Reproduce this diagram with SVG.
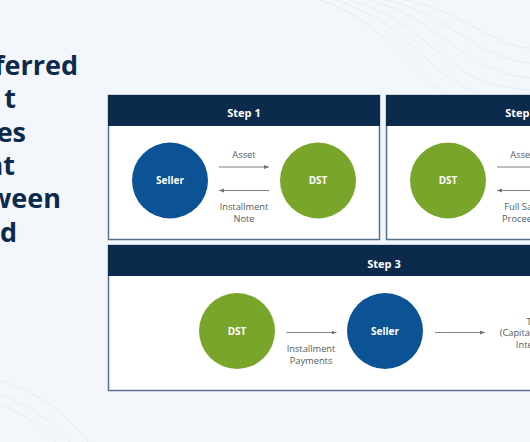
<svg xmlns="http://www.w3.org/2000/svg" width="530" height="442" viewBox="0 0 530 442">
<defs>
<style>
.bg{fill:#f3f7fb}
.wave{fill:none;stroke:#e2e9f1;stroke-width:0.8}
.box{fill:#ffffff;stroke:#56708e;stroke-width:1.5}
.hdr{fill:#0c2a4c}
.htxt{font-family:"Open Sans","Liberation Sans",sans-serif;font-weight:700;font-size:11px;fill:#ffffff;text-anchor:middle}
.ctxt{font-family:"Open Sans","Liberation Sans",sans-serif;font-weight:700;font-size:10px;fill:#ffffff;text-anchor:middle}
.lbl{font-family:"Open Sans","Liberation Sans",sans-serif;font-size:9.3px;fill:#555b63;text-anchor:middle}
.title{font-family:"Open Sans","Liberation Sans",sans-serif;font-weight:700;font-size:27px;fill:#0c2a4c;text-anchor:end}
.blue{fill:#0b5394}
.green{fill:#79a52a}
.arr{stroke:#6f7378;stroke-width:0.9;fill:none;marker-end:url(#ah)}
</style>
<marker id="ah" markerWidth="6" markerHeight="6" refX="5" refY="3" orient="auto" markerUnits="userSpaceOnUse">
<path d="M0,1 L5,3 L0,5 Z" fill="#6f7378"/>
</marker>
</defs>
<rect class="bg" x="0" y="0" width="530" height="442"/>
<g id="background-waves">
<path class="wave" d="M320,0 C380,20 400,60 440,90 C470,110 500,110 530,115"/>
<path class="wave" d="M335,0 C395,18 415,55 455,82 C480,98 505,100 530,102"/>
<path class="wave" d="M350,0 C405,15 430,50 465,72 C490,86 510,88 530,90"/>
<path class="wave" d="M368,0 C420,12 445,44 478,62 C500,74 515,76 530,78"/>
<path class="wave" d="M385,0 C435,10 460,38 490,52 C508,60 520,62 530,63"/>
<path class="wave" d="M405,0 C450,8 475,30 500,40 C515,46 523,48 530,48"/>
<path class="wave" d="M0,395 C30,405 55,425 70,442"/>
<path class="wave" d="M0,405 C25,414 45,430 55,442"/>
<path class="wave" d="M0,380 C40,392 70,418 88,442"/>
</g>
<g id="title">
<text class="title" x="78" y="75">ferred</text>
<text class="title" x="16" y="108">t</text>
<text class="title" x="26" y="142">es</text>
<text class="title" x="15" y="175">nt</text>
<text class="title" x="61" y="208">ween</text>
<text class="title" x="17" y="242">d</text>
</g>
<g id="step1">
<rect class="box" x="108.5" y="95.5" width="271" height="144"/>
<rect class="hdr" x="108" y="95" width="272" height="31"/>
<text class="htxt" x="244" y="117">Step 1</text>
</g>
<g id="step2">
<rect class="box" x="386.5" y="95.5" width="272" height="144"/>
<rect class="hdr" x="386" y="95" width="273" height="31"/>
<text class="htxt" x="522" y="117">Step 2</text>
</g>
<g id="step3">
<rect class="box" x="108.5" y="245.5" width="551" height="145"/>
<rect class="hdr" x="108" y="245" width="552" height="31"/>
<text class="htxt" x="384" y="268">Step 3</text>
</g>
<g id="s1-seller">
<circle class="blue" cx="170" cy="180.5" r="38"/>
<text class="ctxt" x="170" y="184">Seller</text>
</g>
<g id="s1-dst">
<circle class="green" cx="318" cy="180.5" r="38"/>
<text class="ctxt" x="318" y="184">DST</text>
</g>
<g id="s2-dst">
<circle class="green" cx="448" cy="180.5" r="38"/>
<text class="ctxt" x="448" y="184">DST</text>
</g>
<g id="s3-dst">
<circle class="green" cx="237" cy="331" r="38"/>
<text class="ctxt" x="237" y="334.5">DST</text>
</g>
<g id="s3-seller">
<circle class="blue" cx="385" cy="331" r="38"/>
<text class="ctxt" x="385" y="334.5">Seller</text>
</g>
<g id="connectors">
<line class="arr" x1="219" y1="167" x2="269" y2="167"/>
<line class="arr" x1="269" y1="190.5" x2="219" y2="190.5"/>
<line class="arr" x1="497" y1="167" x2="547" y2="167"/>
<line class="arr" x1="547" y1="190.5" x2="497" y2="190.5"/>
<line class="arr" x1="286.5" y1="332.5" x2="336.5" y2="332.5"/>
<line class="arr" x1="435" y1="332.5" x2="485" y2="332.5"/>
</g>
<g id="labels">
<text class="lbl" x="244" y="158">Asset</text>
<text class="lbl" x="244" y="209.5">Installment</text>
<text class="lbl" x="244" y="221.5">Note</text>
<text class="lbl" x="522" y="158">Asset</text>
<text class="lbl" x="522" y="209.5">Full Sale</text>
<text class="lbl" x="522" y="221.5">Proceeds</text>
<text class="lbl" x="311" y="351.5">Installment</text>
<text class="lbl" x="311" y="363.5">Payments</text>
<text class="lbl" x="534" y="324.5">Tax</text>
<text class="lbl" x="534" y="336">(Capital Gains &amp;</text>
<text class="lbl" x="534" y="347.5">Interest)</text>
</g>
</svg>
